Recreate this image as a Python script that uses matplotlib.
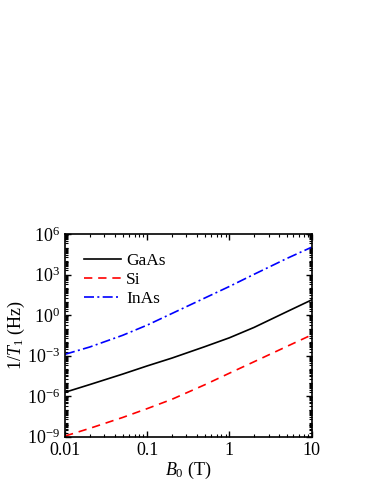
import numpy as np
import matplotlib
matplotlib.use("Agg")
import matplotlib.pyplot as plt
from matplotlib.ticker import LogLocator, LogFormatterMathtext, NullFormatter, FixedLocator, FixedFormatter

plt.rcParams['font.family'] = ['Liberation Serif', 'DejaVu Serif']
plt.rcParams['mathtext.fontset'] = 'custom'
plt.rcParams['mathtext.rm'] = 'Liberation Serif'
plt.rcParams['mathtext.it'] = 'Liberation Serif:italic'

B0 = [0.01, 0.02, 0.05, 0.1, 0.2, 0.5, 1, 2, 5, 10]
log_gaas = [-5.71, -5.14, -4.37, -3.76, -3.18, -2.34, -1.68, -0.91, 0.25, 1.12]
log_si = [-8.95, -8.38, -7.58, -6.92, -6.23, -5.16, -4.30, -3.45, -2.32, -1.47]
log_inas = [-2.90, -2.36, -1.50, -0.74, 0.12, 1.26, 2.12, 3.02, 4.19, 5.02]

xticks = [0.01, 0.1, 1, 10]
xticklabels = ['0.01', '0.1', '1', '10']

fig = plt.figure(figsize=(3.74, 4.84), dpi=100)
ax = fig.add_axes([0.174, 0.0977, 0.659, 0.4188])

ax.plot(B0, 10.0 ** np.array(log_gaas), color='black', lw=1.2, ls='-', label='GaAs')
ax.plot(B0, 10.0 ** np.array(log_si), color='red', lw=1.2, ls=(0, (5, 3.5)), label='Si')
ax.plot(B0, 10.0 ** np.array(log_inas), color='blue', lw=1.2, ls=(0, (6, 2, 1.2, 2)), label='InAs')

ax.set_xscale('log')
ax.set_yscale('log')
ax.set_xlim(0.01, 10)
ax.set_ylim(1e-9, 1e6)

ax.xaxis.set_major_locator(FixedLocator(xticks))
ax.xaxis.set_major_formatter(FixedFormatter(xticklabels))
ax.xaxis.set_minor_locator(LogLocator(base=10, subs=np.arange(2, 10), numticks=50))
ax.xaxis.set_minor_formatter(NullFormatter())

ax.yaxis.set_major_locator(LogLocator(base=1000, numticks=20))
ax.yaxis.set_major_formatter(LogFormatterMathtext(base=10))
ax.yaxis.set_minor_locator(LogLocator(base=10, subs=np.arange(1, 10), numticks=100))
ax.yaxis.set_minor_formatter(NullFormatter())

ax.tick_params(which='both', direction='in', top=True, right=True, labelsize=13)
ax.tick_params(which='major', length=4, width=1)
ax.tick_params(which='minor', length=2, width=0.8)
for s in ax.spines.values():
    s.set_linewidth(1.2)

ax.set_xlabel('$B_0$ (T)', fontsize=13, labelpad=1)
ax.set_ylabel('$1/T_1$ (Hz)', fontsize=13, labelpad=0)

ax.legend(loc='upper left', frameon=False, fontsize=12.5, handlelength=2.1,
          handletextpad=0.3, labelspacing=0.15, borderaxespad=0.7)

fig.savefig('out.png', dpi=100)
